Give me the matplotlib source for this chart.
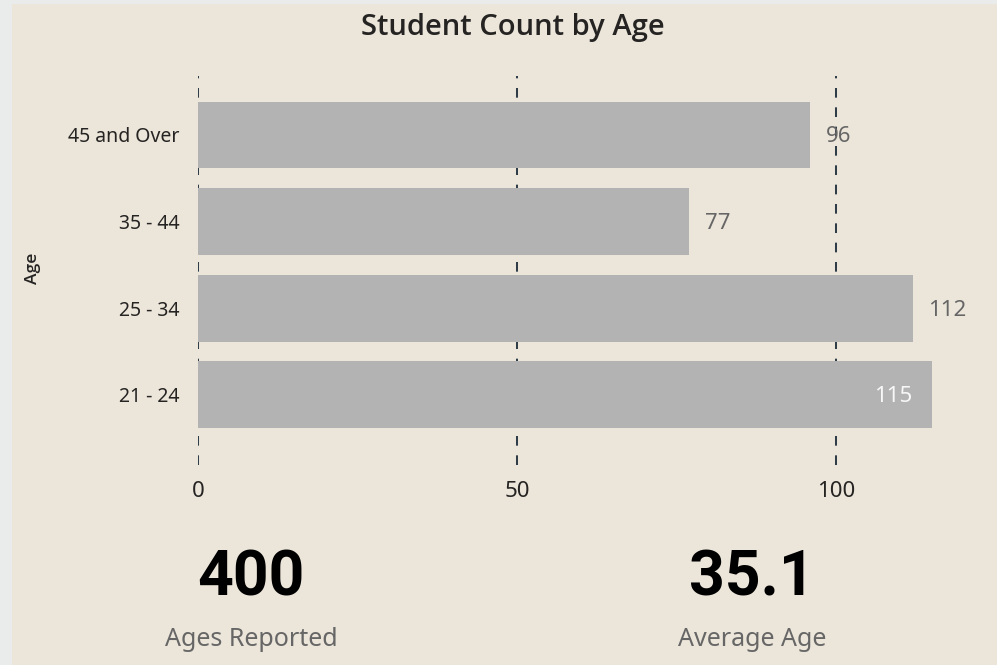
import matplotlib
matplotlib.use("Agg")
import matplotlib.pyplot as plt
from matplotlib.patches import Rectangle

# data
ages = ["21 - 24", "25 - 34", "35 - 44", "45 and Over"]
counts = [115, 112, 77, 96]
x_ticks = [0, 50, 100]
total_reported = "400"
average_age = "35.1"

BG = "#ECE5D9"
EDGE = "#E9ECEB"
BAR = "#B3B3B3"
GRID = "#2E3D47"
TEXT = "#252423"
SUB = "#666666"

fig = plt.figure(figsize=(9.97, 6.65), dpi=100, facecolor=EDGE)
fig.patches.append(Rectangle((12 / 997, 0), 1, 1 - 4 / 665, transform=fig.transFigure,
                             facecolor=BG, edgecolor="none", zorder=-10))

ax = fig.add_axes([198 / 997, 1 - 465 / 665, 765.6 / 997, 389 / 665])
ax.set_facecolor("none")
xmax = 120
ax.set_xlim(0, xmax)
ax.set_ylim(-0.81, 3.68)

for t in x_ticks:
    ax.axvline(t, color=GRID, lw=1.45, linestyle=(0, (4.8, 4.8)), zorder=0)

ypos = list(range(len(ages)))
ax.barh(ypos, counts, height=0.77, color=BAR, zorder=2)

for y, v in zip(ypos, counts):
    if v > xmax - 6:
        ax.annotate(str(v), (v, y), xytext=(-14, -1.5), textcoords="offset points",
                    ha="right", va="center", color="#F7F7F7", fontsize=16,
                    family="Noto Sans", zorder=3)
    else:
        ax.annotate(str(v), (v, y), xytext=(11, -1.5), textcoords="offset points",
                    ha="left", va="center", color=SUB, fontsize=16,
                    family="Noto Sans", zorder=3)

ax.set_yticks(ypos)
ax.set_yticklabels(ages, family="Noto Sans", fontsize=14, color=TEXT)
ax.set_xticks(x_ticks)
ax.set_xticklabels([str(t) for t in x_ticks], family="Noto Sans", fontsize=16, color=TEXT)
ax.tick_params(axis="both", length=0)
ax.tick_params(axis="y", pad=13)
ax.tick_params(axis="x", pad=11.5)
for s in ax.spines.values():
    s.set_visible(False)

fig.text(33 / 997, 1 - 268 / 665, "Age", rotation=90, ha="center", va="center",
         family="Open Sans", fontweight="semibold", fontsize=12.5, color=TEXT)
fig.text(513 / 997, 1 - 28 / 665, "Student Count by Age", ha="center", va="center",
         family="Open Sans", fontweight="semibold", fontsize=21, color=TEXT)

for cx, big, label in [(251 / 997, total_reported, "Ages Reported"),
                       (752 / 997, average_age, "Average Age")]:
    fig.text(cx, 1 - 579 / 665, big, ha="center", va="center", family="Roboto",
             fontweight="bold", fontsize=45, color="black")
    fig.text(cx, 1 - 640 / 665, label, ha="center", va="center", family="Noto Sans",
             fontsize=18, color=SUB)

fig.savefig("out.png", dpi=100, facecolor=fig.get_facecolor())
